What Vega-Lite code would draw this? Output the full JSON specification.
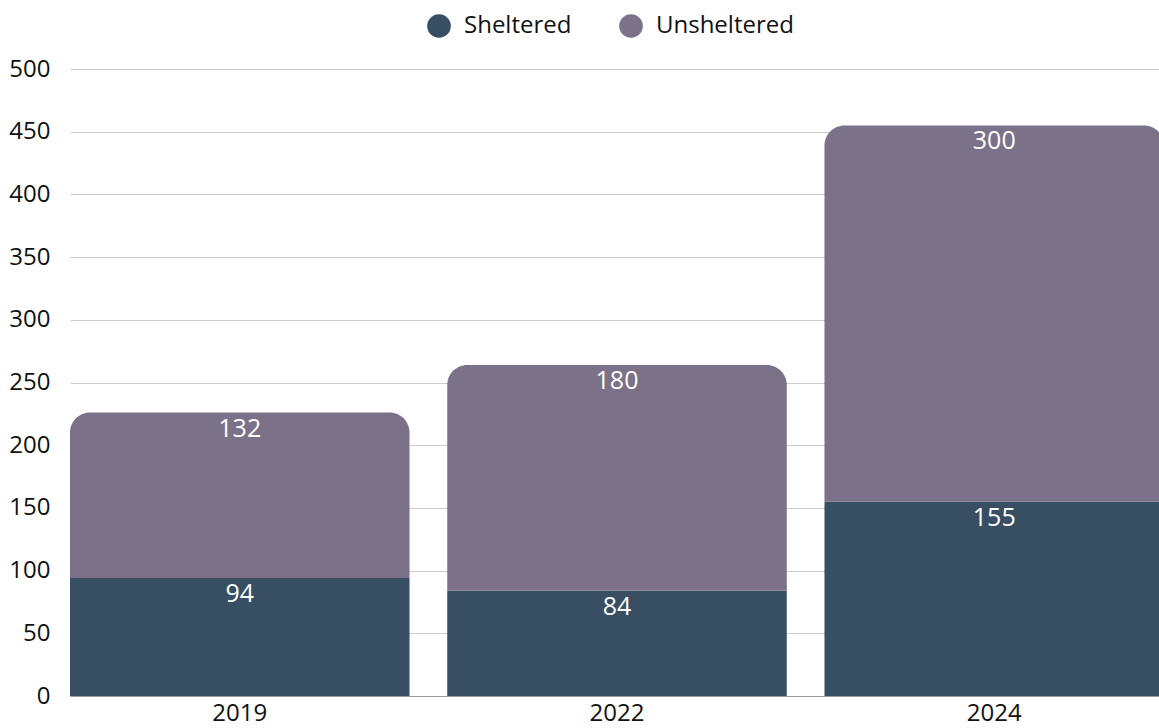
{
  "$schema": "https://vega.github.io/schema/vega-lite/v6.json",
  "autosize": "none",
  "width": 1094,
  "height": 627,
  "padding": {"left": 70, "top": 69, "right": 0, "bottom": 32},
  "config": {
    "font": "Open Sans",
    "view": {"stroke": null}
  },
  "data": {
    "values": [
      {"year": "2019", "category": "Sheltered", "value": 94},
      {"year": "2019", "category": "Unsheltered", "value": 132},
      {"year": "2022", "category": "Sheltered", "value": 84},
      {"year": "2022", "category": "Unsheltered", "value": 180},
      {"year": "2024", "category": "Sheltered", "value": 155},
      {"year": "2024", "category": "Unsheltered", "value": 300}
    ]
  },
  "transform": [
    {"stack": "value", "groupby": ["year"], "as": ["v0", "v1"], "sort": [{"field": "category", "order": "ascending"}]}
  ],
  "encoding": {
    "x": {
      "field": "year", "type": "nominal",
      "scale": {"paddingInner": 0.1, "paddingOuter": 0},
      "axis": {"title": null, "labelAngle": 0, "labelFontSize": 24, "labelColor": "#111111", "ticks": false, "domainColor": "#999999", "labelPadding": 5}
    }
  },
  "layer": [
    {
      "transform": [{"filter": "datum.category === 'Sheltered'"}],
      "mark": {"type": "bar"},
      "encoding": {
        "y": {
          "field": "v1", "type": "quantitative",
          "scale": {"domain": [0, 500]},
          "axis": {"title": null, "values": [0,50,100,150,200,250,300,350,400,450,500], "labelOverlap": false, "labelFontSize": 24, "labelColor": "#111111", "ticks": false, "domain": false, "gridColor": "#cccccc", "labelPadding": 20}
        },
        "y2": {"field": "v0"},
        "color": {
          "field": "category", "type": "nominal",
          "scale": {"domain": ["Sheltered", "Unsheltered"], "range": ["#374e63", "#7b7289"]},
          "legend": {"title": null, "orient": "none", "legendX": 356, "legendY": -56, "direction": "horizontal", "symbolType": "circle", "symbolSize": 560, "labelFontSize": 24, "labelColor": "#111111", "columnPadding": 46, "symbolOffset": 0, "labelOffset": 12}
        }
      }
    },
    {
      "transform": [{"filter": "datum.category === 'Unsheltered'"}],
      "mark": {"type": "bar", "cornerRadiusTopLeft": 20, "cornerRadiusTopRight": 20},
      "encoding": {
        "y": {"field": "v1", "type": "quantitative"},
        "y2": {"field": "v0"},
        "color": {"field": "category", "type": "nominal"}
      }
    },
    {
      "mark": {"type": "text", "baseline": "top", "dy": 4, "fontSize": 25, "color": "white"},
      "encoding": {
        "y": {"field": "v1", "type": "quantitative"},
        "text": {"field": "value", "type": "quantitative"}
      }
    }
  ]
}
